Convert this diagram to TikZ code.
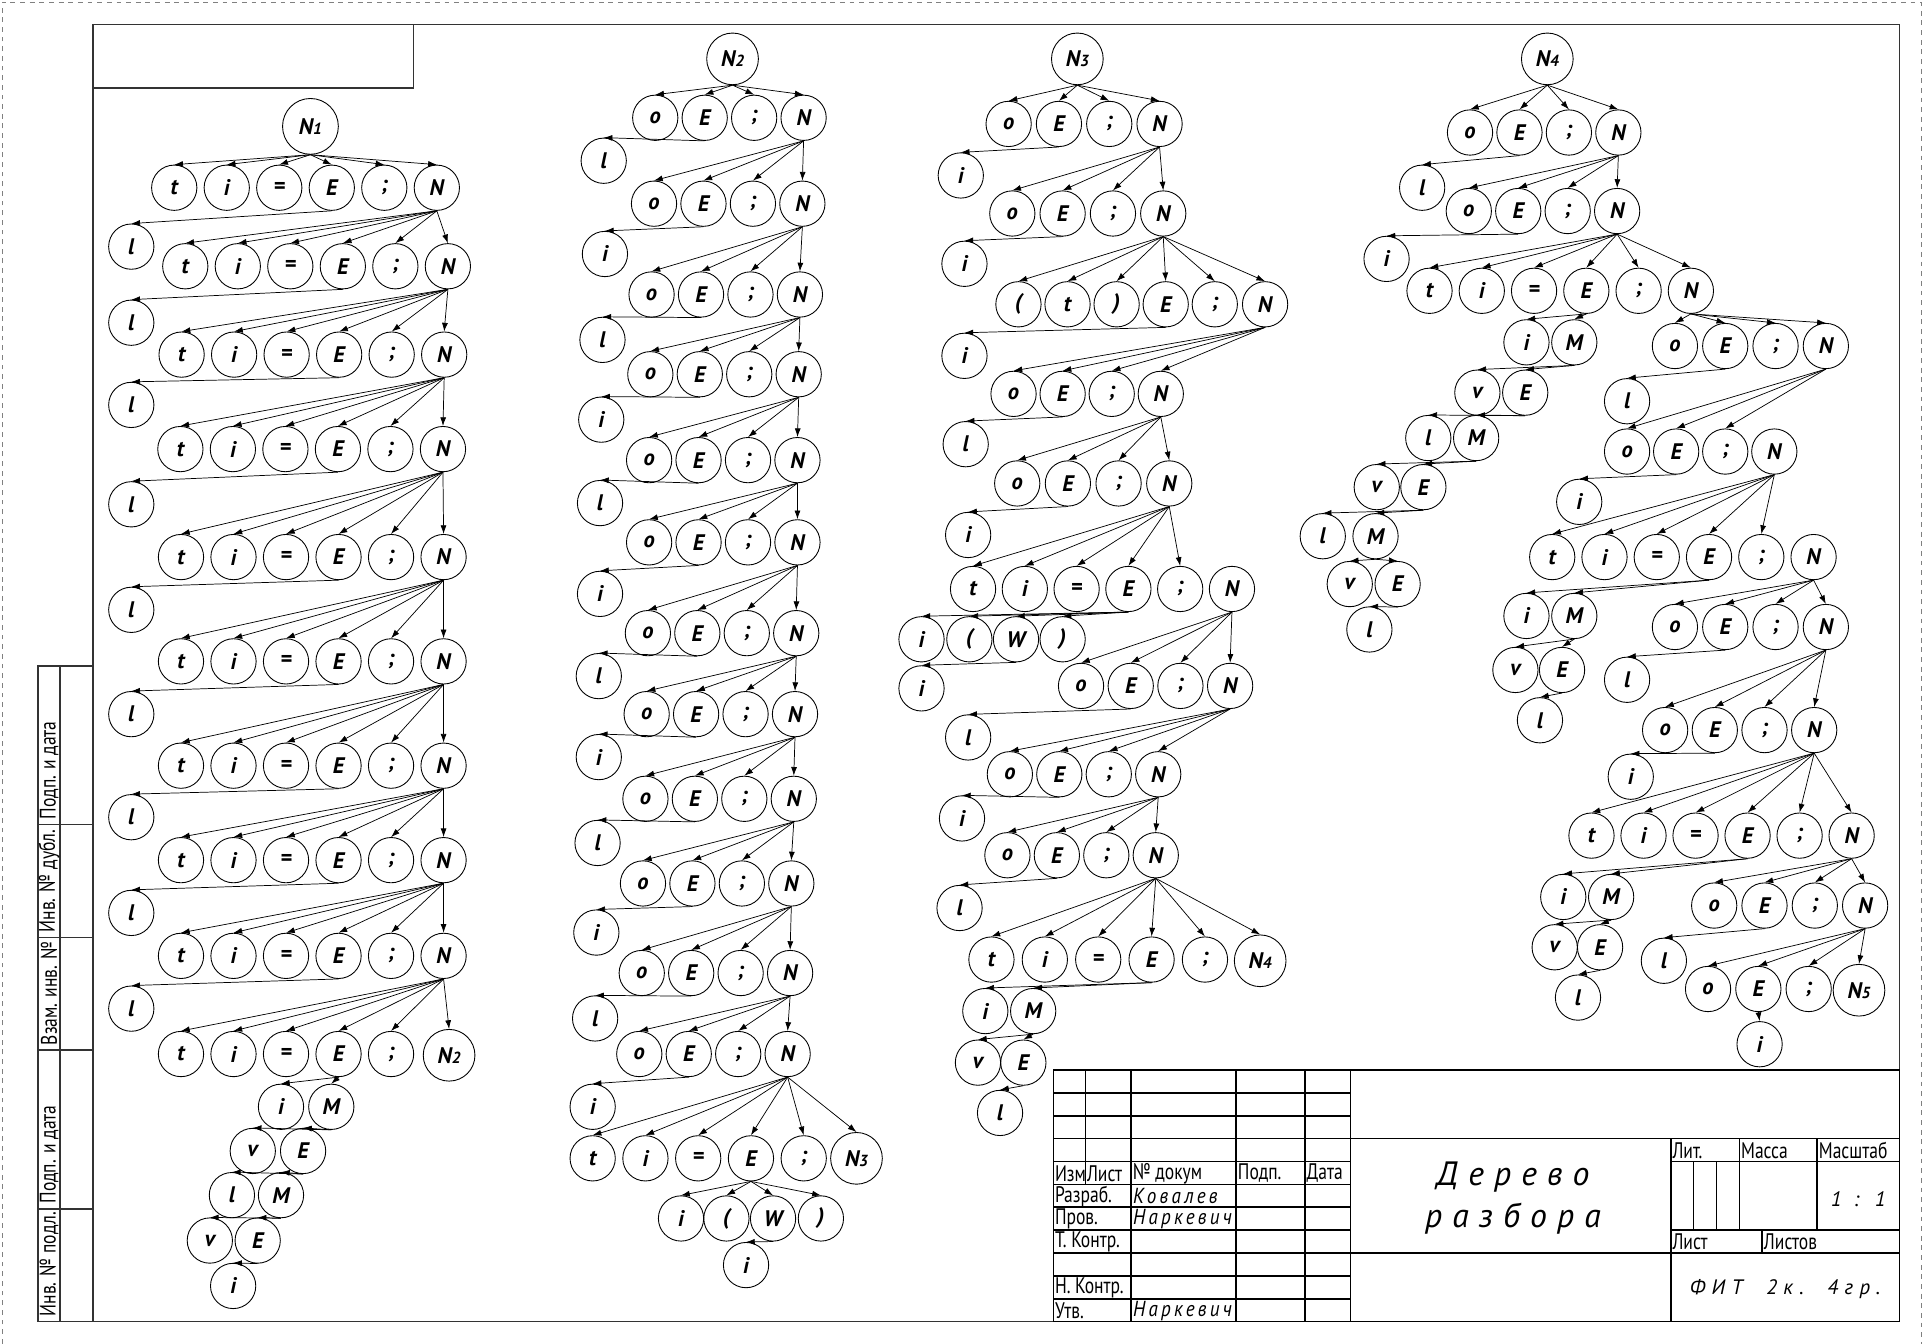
\documentclass[tikz,border=0pt]{standalone}
\usepackage{fontspec}
\setmainfont{PT Sans}
\newfontfamily\ptsans{PT Sans}
\newfontfamily\gost[FakeStretch=0.78]{PT Sans}
\newfontfamily\gostsp[FakeStretch=0.88,LetterSpace=15]{PT Sans}
\newfontfamily\gostwide[LetterSpace=30]{PT Sans}
\usetikzlibrary{arrows.meta}

\begin{document}
\begin{tikzpicture}[x=0.26827mm,y=-0.26827mm,>={Latex[length=1.9mm,width=1.3mm]},
  vtx/.style={circle,draw,line width=0.55pt,minimum size=9.9mm,inner sep=0pt,
    font=\ptsans\bfseries\itshape\fontsize{14}{14}\selectfont},
  root/.style={vtx,minimum size=11.3mm},
  edge/.style={->,line width=0.45pt},
  frame/.style={line width=1.1pt,black!80},
  tb/.style={line width=1pt},
  lbl/.style={anchor=west,inner sep=0pt,font=\gost\fontsize{14}{14}\selectfont},
  sig/.style={anchor=west,inner sep=0pt,font=\gostsp\itshape\fontsize{13.5}{14}\selectfont}]
\newcommand{\idx}[1]{{\fontsize{10}{10}\selectfont#1}}
\newcommand{\noderow}[5]{\foreach \lab [count=\j] in {#5}{\node[vtx] (#1-\j) at ({#2+(\j-1)*#4},#3) {\lab};}}
\newcommand{\kidsrow}[3]{\foreach \j in {1,...,#3}{\draw[edge] (#1.south) -- (#2-\j.north);}}
\newcommand{\kids}[2]{\foreach \ch in {#2}{\draw[edge] (#1.south) -- (\ch.north);}}
\useasboundingbox (0,0) rectangle (1568,1095);
%%%%%%%%%%%%%%%% sheet and frame
\draw[dashed,gray,line width=0.4pt] (1.5,1095) -- (1.5,1.5) -- (1565.5,1.5) -- (1565.5,1095);
\draw[frame] (76,20) rectangle (1548,1077);
\draw[frame] (76,72) -- (337,72) -- (337,20);
\draw[frame] (76,543) -- (31,543) -- (31,1077) -- (76,1077) (49,543) -- (49,1077);
\foreach \y in {672,764,856,985} \draw[frame] (31,\y) -- (76,\y);
\foreach \txt/\y [count=\k] in {Подп. и дата/668,Инв. № дубл./760,Взам. инв. №/852,Подп. и дата/981,Инв. № подл./1073}
  \node[lbl,rotate=90] (side\k) at (40,\y) {\txt};
%%%%%%%%%%%%%%%% tree N1
\node[root,minimum size=12.2mm] (a0) at (253,103) {N\idx{1}};
\foreach \k/\x/\y in {1/142/153,2/151/217,3/148/289,4/147/366,5/147.5/454,6/147.5/539,7/147.5/624,8/147.5/701,9/147.5/779}
  {\noderow{a\k}{\x}{\y}{42.8}{t,i,=,E,;,N}}
\noderow{a10}{147.5}{859}{42.8}{t,i,=,E,;}
\node[root] (a10-6) at (366,860) {N\idx{2}};
\foreach \y [count=\k] in {201,263,330,411,497,582,666,744,822}
  \node[vtx] (al\k) at (107,\y) {l};
\foreach \lab/\x/\y [count=\k] in {i/229/902,M/270/902,v/206/938,E/247/938,l/189/974,M/229/974,v/171/1011,E/210/1011,i/190/1048}
  \node[vtx] (ab\k) at (\x,\y) {\lab};
\kidsrow{a0}{a1}{6}
\foreach \k [evaluate=\k as \n using int(\k+1)] in {1,...,9}
  {\kidsrow{a\k-6}{a\n}{6}\draw[edge] (a\k-4.south) -- (al\k.north);}
\kids{a10-4}{ab1,ab2} \kids{ab2}{ab3,ab4} \kids{ab4}{ab5,ab6} \kids{ab6}{ab7,ab8} \kids{ab8}{ab9}
%%%%%%%%%%%%%%%% tree N2
\node[root] (b0) at (597,48) {N\idx{2}};
\foreach \k/\x/\y in {1/534/96,2/533/166,3/531/240,4/530/305,5/529/375,6/529/442,7/528/516,8/527/582,9/526/651,10/524/720,11/523/793,12/521/859}
  {\noderow{b\k}{\x}{\y}{40.3}{o,E,;,N}}
\noderow{b13}{483}{944}{43}{t,i,=,E,;}
\node[root] (b13-6) at (698,944) {N\idx{3}};
\foreach \lab/\x/\y [count=\k] in {l/492/131,i/493/207,l/491/277,i/490/342,l/489/410,i/489/484,l/488/551,i/488/617,l/487/687,i/486/760,l/485/830,i/483/902}
  \node[vtx] (bl\k) at (\x,\y) {\lab};
\node[vtx] (bw1) at (555,993) {i};
\node[vtx] (bw2) at (592,993) {(};
\node[vtx] (bw3) at (630,993) {W};
\node[vtx] (bw4) at (669,993) {)};
\node[vtx] (bw5) at (608,1031) {i};
\kidsrow{b0}{b1}{4}
\foreach \k [evaluate=\k as \n using int(\k+1)] in {1,...,11}
  {\kidsrow{b\k-4}{b\n}{4}}
\kidsrow{b12-4}{b13}{6}
\foreach \k in {1,...,12} \draw[edge] (b\k-2.south) -- (bl\k.north);
\kids{b13-4}{bw1,bw2,bw3,bw4} \kids{bw3}{bw5}
%%%%%%%%%%%%%%%% tree N3
\node[root] (c0) at (878,48) {N\idx{3}};
\noderow{c1}{822}{101}{41}{o,E,;,N}
\noderow{c2}{825}{174}{41}{o,E,;,N}
\node[vtx] (c3-1) at (830,248) {(};
\node[vtx] (c3-2) at (870,248) {t};
\node[vtx] (c3-3) at (910,248) {)};
\node[vtx] (c3-4) at (950,248) {E};
\node[vtx] (c3-5) at (990,248) {;};
\node[vtx] (c3-6) at (1031,248) {N};
\noderow{c4}{826}{321}{40}{o,E,;,N}
\noderow{c5}{829}{394}{41.3}{o,E,;,N}
\noderow{c6}{793}{480}{42.2}{t,i,=,E,;,N}
\noderow{c7}{881}{559}{40.5}{o,E,;,N}
\noderow{c8}{823}{631}{40.3}{o,E,;,N}
\noderow{c9}{821}{697}{40.3}{o,E,;,N}
\noderow{c10}{808}{782}{43.5}{t,i,=,E,;}
\node[root] (c10-6) at (1027,783) {N\idx{4}};
\foreach \nm/\lab/\x/\y in {cl1/i/783/143,cl2/i/786/215,cl3/i/786/290,cl4/l/787/362,cl5/i/789/436,cl7/l/789/601,cl8/i/784/667,cl9/l/782/740}
  \node[vtx] (\nm) at (\x,\y) {\lab};
\node[vtx] (cw1) at (751,521) {i};
\node[vtx] (cw2) at (790,521) {(};
\node[vtx] (cw3) at (828,521) {W};
\node[vtx] (cw4) at (866,521) {)};
\node[vtx] (cw5) at (751,561) {i};
\foreach \lab/\x/\y [count=\k] in {i/803/824,M/842/824,v/797/866,E/834/866,l/815/907}
  \node[vtx] (cm\k) at (\x,\y) {\lab};
\kidsrow{c0}{c1}{4} \kidsrow{c1-4}{c2}{4} \kidsrow{c2-4}{c3}{6} \kidsrow{c3-6}{c4}{4}
\kidsrow{c4-4}{c5}{4} \kidsrow{c5-4}{c6}{5} \kidsrow{c6-6}{c7}{4} \kidsrow{c7-4}{c8}{4}
\kidsrow{c8-4}{c9}{4} \kidsrow{c9-4}{c10}{6}
\kids{c1-2}{cl1} \kids{c2-2}{cl2} \kids{c3-4}{cl3} \kids{c4-2}{cl4} \kids{c5-2}{cl5}
\kids{c7-2}{cl7} \kids{c8-2}{cl8} \kids{c9-2}{cl9}
\kids{c6-4}{cw1,cw2,cw3,cw4} \kids{cw3}{cw5}
\kids{c10-4}{cm1,cm2} \kids{cm2}{cm3,cm4} \kids{cm4}{cm5}
%%%%%%%%%%%%%%%% tree N4
\node[root] (d0) at (1261,48) {N\idx{4}};
\noderow{d1}{1198}{108}{40.3}{o,E,;,N}
\noderow{d2}{1197}{172}{40.3}{o,E,;,N}
\noderow{d3}{1165}{237}{42.6}{t,i,=,E,;,N}
\noderow{d4}{1365}{282}{41}{o,E,;,N}
\noderow{d5}{1326}{368}{40}{o,E,;,N}
\noderow{d6}{1265}{454}{42.6}{t,i,=,E,;,N}
\noderow{d7}{1365}{511}{41}{o,E,;,N}
\noderow{d8}{1357}{595}{40.5}{o,E,;,N}
\noderow{d9}{1297}{681}{42.4}{t,i,=,E,;,N}
\noderow{d10}{1397}{738}{41}{o,E,;,N}
\noderow{d11}{1392}{806}{41}{o,E,;}
\node[root] (d11-4) at (1515,807) {N\idx{5}};
\foreach \nm/\lab/\x/\y in {dl1/l/1159/153,dl2/i/1130/211,dl4/l/1326/327,dl5/i/1287/409,dl7/l/1326/554,dl8/i/1329/633,dl10/l/1356/783,dl11/i/1434/851}
  \node[vtx] (\nm) at (\x,\y) {\lab};
\foreach \lab/\x/\y [count=\k] in {i/1244/279,M/1283/279,v/1204/320,E/1243/320,l/1164/357,M/1203/357,v/1122/397,E/1160/397,l/1078/437,M/1121/437,v/1100/476,E/1139/476,l/1116/513}
  \node[vtx] (dm\k) at (\x,\y) {\lab};
\foreach \lab/\x/\y [count=\k] in {i/1244/502,M/1283/502,v/1235/546,E/1273/546,l/1255/587}
  \node[vtx] (dn\k) at (\x,\y) {\lab};
\foreach \lab/\x/\y [count=\k] in {i/1274/731,M/1313/731,v/1267/772,E/1304/772,l/1286/813}
  \node[vtx] (dp\k) at (\x,\y) {\lab};
\kidsrow{d0}{d1}{4} \kidsrow{d1-4}{d2}{4} \kidsrow{d2-4}{d3}{6} \kidsrow{d3-6}{d4}{4}
\kidsrow{d4-4}{d5}{3} \kidsrow{d5-4}{d6}{5} \kidsrow{d6-6}{d7}{4} \kidsrow{d7-4}{d8}{4}
\kidsrow{d8-4}{d9}{6} \kidsrow{d9-6}{d10}{4} \kidsrow{d10-4}{d11}{4}
\kids{d1-2}{dl1} \kids{d2-2}{dl2} \kids{d4-2}{dl4} \kids{d5-2}{dl5}
\kids{d7-2}{dl7} \kids{d8-2}{dl8} \kids{d10-2}{dl10} \kids{d11-2}{dl11}
\kids{d3-4}{dm1,dm2} \kids{dm2}{dm3,dm4} \kids{dm4}{dm5,dm6} \kids{dm6}{dm7,dm8}
\kids{dm8}{dm9,dm10} \kids{dm10}{dm11,dm12} \kids{dm12}{dm13}
\kids{d6-4}{dn1,dn2} \kids{dn2}{dn3,dn4} \kids{dn4}{dn5}
\kids{d9-4}{dp1,dp2} \kids{dp2}{dp3,dp4} \kids{dp4}{dp5}
%%%%%%%%%%%%%%%% title block (mm inside)
\begin{scope}[shift={(858.4,872)},x=1mm,y=-1mm]
  \draw[tb] (0,0) rectangle (185,55);
  \foreach \y in {5,10,...,50} \draw[tb] (0,\y) -- (65,\y);
  \draw[tb] (7,0) -- (7,25);
  \foreach \x in {17,40,55,65} \draw[tb] (\x,0) -- (\x,55);
  \draw[tb] (65,15) -- (185,15) (65,40) -- (185,40) (135,15) -- (135,55);
  \draw[tb] (135,20) -- (185,20) (135,35) -- (185,35);
  \draw[tb] (150,15) -- (150,35) (167,15) -- (167,35);
  \draw[tb] (140,20) -- (140,35) (145,20) -- (145,35) (155,35) -- (155,40);
  \node[lbl] (tizm) at (0.3,22.6) {Изм};
  \node[lbl] (tlst) at (7.3,22.6) {Лист};
  \node[lbl] (tdoc) at (17.3,22.6) {№ докум};
  \node[lbl] (tpodp) at (40.3,22.6) {Подп.};
  \node[lbl] (tdate) at (55.3,22.6) {Дата};
  \node[lbl] (trazr) at (0.3,27.6) {Разраб.};
  \node[lbl] (tprov) at (0.3,32.6) {Пров.};
  \node[lbl] (ttk) at (0.3,37.6) {Т. Контр.};
  \node[lbl] (tnk) at (0.3,47.6) {Н. Контр.};
  \node[lbl] (tutv) at (0.3,52.6) {Утв.};
  \node[sig] (tkov) at (17.4,27.6) {Ковалев};
  \node[sig] (tnar) at (17.4,32.6) {Наркевич};
  \node[sig] (tnar2) at (17.4,52.6) {Наркевич};
  \node[align=center,inner sep=0pt,font=\gostwide\itshape\fontsize{21}{26.5}\selectfont] (tname) at (100.5,28) {Дерево\\разбора};
  \node[lbl] (tlit) at (135.3,17.6) {Лит.};
  \node[lbl] (tmass) at (150.3,17.6) {Масса};
  \node[lbl] (tscl) at (167.3,17.6) {Масштаб};
  \node[lbl] (tsh) at (135.3,37.6) {Лист};
  \node[lbl] (tshs) at (155.3,37.6) {Листов};
  \node[sig,anchor=center,font=\gostwide\itshape\fontsize{13}{13}\selectfont] (tratio) at (176,28.2) {1 : 1};
  \node[sig,anchor=center,font=\gostwide\itshape\fontsize{13}{13}\selectfont] (tfit) at (160,48) {ФИТ\ \ 2к.\ \ 4гр.};
\end{scope}
\end{tikzpicture}
\end{document}
